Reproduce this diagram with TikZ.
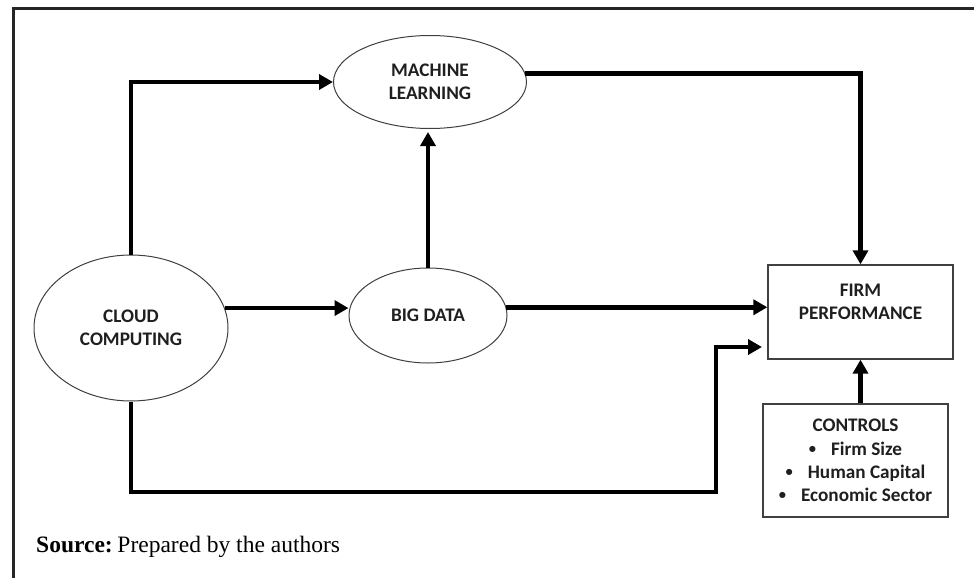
\documentclass[tikz,border=0pt]{standalone}
\usepackage{fontspec}
\setmainfont{Liberation Serif}
\newfontfamily\calibrifont{Carlito}
\usetikzlibrary{shapes.geometric,arrows.meta,calc}
\newcommand{\smallbul}{\raisebox{1.8pt}{\fontsize{14.5}{14.5}\selectfont •}\hspace{15pt}}
\begin{document}
\begin{tikzpicture}[x=1pt,y=-1pt,
  lbl/.style={font=\calibrifont\bfseries\fontsize{19.2}{22.8}\selectfont, text=black!88, align=center},
  ell/.style={ellipse, draw=black!75, line width=1pt, inner sep=0pt, lbl},
  boxnode/.style={rectangle, draw=black!75, line width=1.3pt, inner sep=0pt},
  conn/.style={line width=4.5pt, -{Triangle[length=14pt,width=15pt]}},
  frameline/.style={line width=3pt, draw=black!85}
]
\useasboundingbox (0,0) rectangle (974,578);
\draw[frameline] (13,578) -- (13,9) -- (974,9);

\node[ell, minimum width=193pt, minimum height=93pt] (ml) at (430,82) {MACHINE\\LEARNING};
\node[ell, minimum width=158pt, minimum height=95pt] (bd) at (428,315.5) {BIG DATA};
\node[ell, minimum width=194pt, minimum height=146pt] (cc) at (131,328) {CLOUD\\COMPUTING};
\node[boxnode, minimum width=185pt, minimum height=94pt] (fp) at (860.5,312) {};
\node[lbl] (fptext) at (860.5,302) {FIRM\\PERFORMANCE};
\node[boxnode, lbl, minimum width=185pt, minimum height=113pt, font=\calibrifont\bfseries\fontsize{19.2}{23.3}\selectfont] (ctl) at (855.5,460.5)
  {CONTROLS\\ \smallbul Firm Size\\ \smallbul Human Capital\\ \smallbul Economic Sector};

\node[anchor=base west, font=\fontsize{23.5}{28}\selectfont, inner sep=0pt] (src) at (36,552) {\textbf{Source:}\hspace{0.2em}Prepared by the authors};

\coordinate (corner) at (716,492);
\coordinate (fpin) at (762,347);

\draw[conn] (cc.north) |- (ml.west);
\draw[conn] (ml.5) -| (fp.north);
\draw[conn, shorten >=3pt] (bd.north) -- (bd.north |- ml.south);
\draw[conn] (cc.12) -- (cc.12 -| bd.west);
\draw[conn] (bd.6) -- (bd.6 -| fp.west);
\draw[conn] (cc.south) |- (corner) |- (fpin);
\draw[conn] (fp.south |- ctl.north) -- (fp.south);
\end{tikzpicture}
\end{document}
